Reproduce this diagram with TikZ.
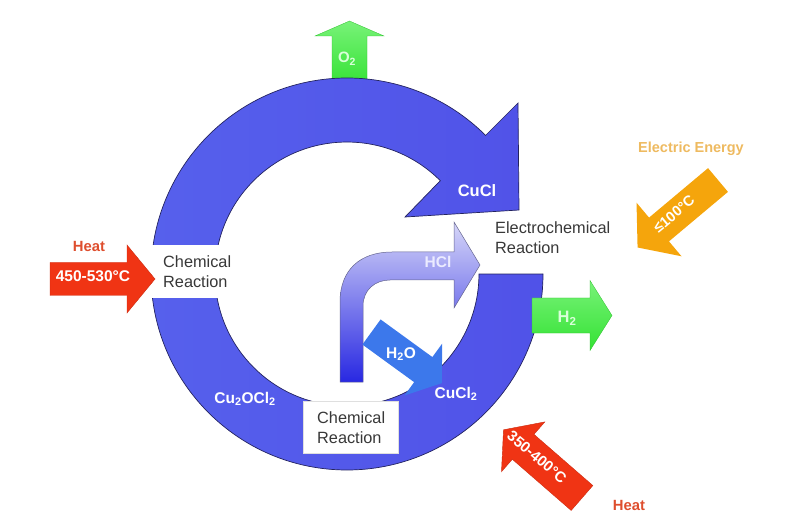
\documentclass[tikz,border=0pt]{standalone}
\usepackage{fontspec}
\setmainfont{Liberation Sans}
\definecolor{ringL}{RGB}{86,96,236}
\definecolor{ringM}{RGB}{172,174,250}
\definecolor{ringR}{RGB}{80,82,232}
\definecolor{ringEdge}{RGB}{35,35,95}
\definecolor{hclTop}{RGB}{214,214,248}
\definecolor{hclBot}{RGB}{40,40,226}
\definecolor{hoblue}{RGB}{60,120,235}
\definecolor{grnL}{RGB}{120,242,120}
\definecolor{grnD}{RGB}{52,226,52}
\definecolor{heatred}{RGB}{240,52,20}
\definecolor{heattxt}{RGB}{222,78,46}
\definecolor{elorange}{RGB}{245,165,12}
\definecolor{eltxt}{RGB}{238,186,96}
\newcommand\blkarrow[8][]{%
  \begin{scope}[shift={(#2,#3)},rotate=#4]
    \path[#1] (0,-#6) -- (#5,-#6) -- (#5,-#8) -- (#5+#7,0) -- (#5,#8) -- (#5,#6) -- (0,#6) -- cycle;
  \end{scope}}
\tikzset{
  ringstyle/.style={draw=ringEdge,line width=0.7pt,left color=ringL,middle color=ringM,right color=ringR},
  blacklbl/.style={font=\fontsize{16.3}{20}\selectfont,text=black!78,align=left,inner sep=0pt,anchor=west},
  whitelbl/.style={font=\bfseries\fontsize{15.5}{18}\selectfont,text=white,inner sep=0pt,anchor=base},
  rotlbl/.style={font=\bfseries\fontsize{14.5}{17}\selectfont,text=white,inner sep=0pt},
  heatlbl/.style={font=\bfseries\fontsize{14.8}{17}\selectfont,text=heattxt,inner sep=0pt,anchor=base},
  redarrow/.style={fill=heatred,draw=heatred!85!black,line width=0.4pt},
  grnarrow/.style={draw=grnD!85!black,line width=0.3pt,top color=grnL,bottom color=grnD},
}
\begin{document}
\begin{tikzpicture}[x=1pt,y=-1pt]
\useasboundingbox (0,0) rectangle (789,518);
% O2 arrow (behind ring)
\path[grnarrow] (332,86) -- (332,36) -- (315,36) -- (349.5,21) -- (384,36) -- (367,36) -- (367,86) -- cycle;
% main ring arrow
\path[ringstyle] (543,274) arc[start angle=0,end angle=315,radius=196]
   -- (518,103) -- (519,210) -- (405,217) -- (440.3,180.7)
   arc[start angle=315,end angle=0,radius=132] -- cycle;
% white label boxes on ring
\fill[white] (144,245) rectangle (233,298);
\path[fill=white,draw=gray!25,line width=0.4pt] (303,401) rectangle (398,453);
% HCl bent arrow
\path[draw=ringEdge!70,line width=0.5pt,top color=hclTop,middle color=white,bottom color=hclBot]
  (340,382) -- (340,302) .. controls (340,270) and (360,252) .. (392,252) -- (454,252)
  -- (454,222) -- (480,265) -- (454,308) -- (454,280) -- (390,280)
  .. controls (375,280) and (363,290) .. (363,306) -- (363,382) -- cycle;
% H2O arrow
\blkarrow[fill=hoblue]{371.5}{332}{-36}{64}{15.5}{23}{32}
% H2 arrow
\blkarrow[grnarrow]{532}{315.5}{0}{58}{17.5}{22}{35}
% heat arrows
\blkarrow[redarrow]{50}{279}{0}{77}{16.5}{28}{34}
\blkarrow[redarrow]{582}{498}{139}{78}{16.5}{26}{33}
% electric energy arrow
\blkarrow[fill=elorange]{718}{180}{220}{77}{15.5}{28}{35}
% labels
\node[blacklbl] (chem1) at (163,271.2) {Chemical\\Reaction};
\node[blacklbl] (elchem) at (495,237.2) {Electrochemical\\Reaction};
\node[blacklbl] (chem2) at (317,427.2) {Chemical\\Reaction};
\node[whitelbl,font=\bfseries\fontsize{16.5}{18}\selectfont] (cucl) at (477,197) {CuCl};
\node[whitelbl,text=white!92!blue] (hcl) at (438,268) {HCl};
\node[whitelbl] (h2o) at (401,358) {H\textsubscript{2}O};
\node[whitelbl] (cucl2) at (456,398) {CuCl\textsubscript{2}};
\node[whitelbl] (cu2ocl2) at (245,403) {Cu\textsubscript{2}OCl\textsubscript{2}};
\node[whitelbl,font=\bfseries\fontsize{15}{16}\selectfont,text=white!85!green] (o2) at (347,63) {O\textsubscript{2}};
\node[whitelbl,font=\bfseries\fontsize{16.5}{18}\selectfont,text=white!85!green] (h2) at (567,323) {H\textsubscript{2}};
\node[heatlbl] (heat1) at (89,252) {Heat};
\node[whitelbl,font=\bfseries\fontsize{15.5}{18}\selectfont] (t1) at (93,282) {450-530°C};
\node[heatlbl,text=eltxt,font=\bfseries\fontsize{14.5}{17}\selectfont] (elen) at (691,153) {Electric Energy};
\node[rotlbl,rotate=40] (t2) at (674,214) {≤100°C};
\node[rotlbl,font=\bfseries\fontsize{15}{17}\selectfont,rotate=-40] (t3) at (537,457) {350-400°C};
\node[heatlbl] (heat2) at (629,510) {Heat};
\end{tikzpicture}
\end{document}
